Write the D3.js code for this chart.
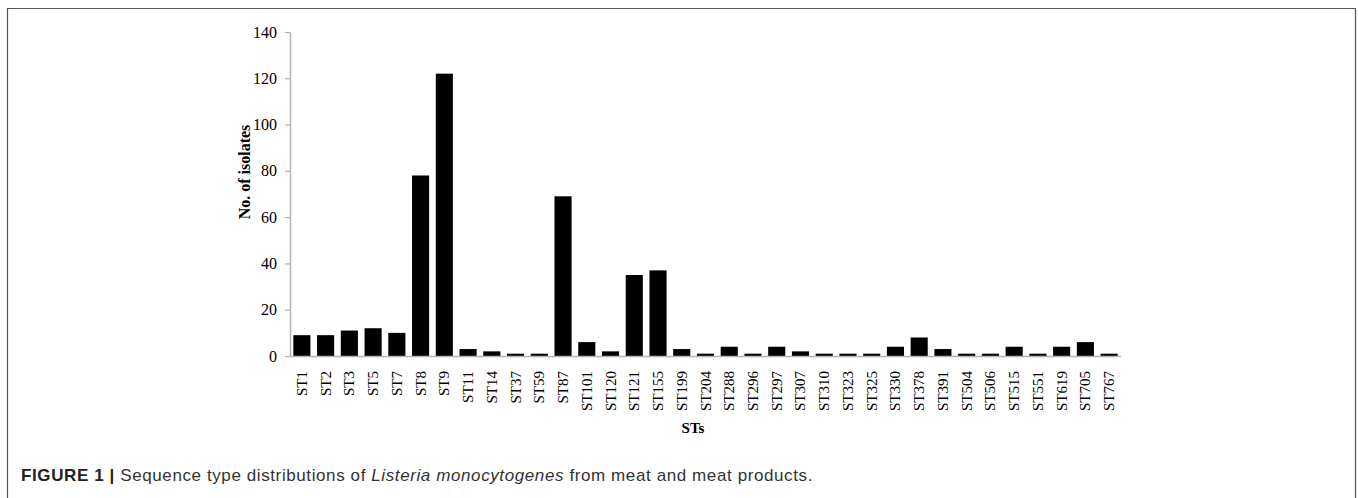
<!DOCTYPE html>
<html>
<head>
<meta charset="utf-8">
<script src="https://cdn.jsdelivr.net/npm/d3@7"></script>
<style>
  body { margin: 0; background: #fff; }
  svg { display: block; }
</style>
</head>
<body>
<div id="chart"></div>
<script>
// data
var categories = ["ST1","ST2","ST3","ST5","ST7","ST8","ST9","ST11","ST14","ST37","ST59","ST87",
  "ST101","ST120","ST121","ST155","ST199","ST204","ST288","ST296","ST297","ST307","ST310",
  "ST323","ST325","ST330","ST378","ST391","ST504","ST506","ST515","ST551","ST619","ST705","ST767"];
var isolates = [9,9,11,12,10,78,122,3,2,1,1,69,6,2,35,37,3,1,4,1,4,2,1,1,1,4,8,3,1,1,4,1,4,6,1];
var yTicks = [0,20,40,60,80,100,120,140];

var width = 1358, height = 498;
var margin = {left: 290, right: 237, top: 32, bottom: 142};
var plotW = width - margin.left - margin.right,
    plotH = height - margin.top - margin.bottom;

var serif = "'Liberation Serif', 'Times New Roman', serif";

var svg = d3.select("#chart").append("svg")
    .attr("width", width)
    .attr("height", height);

// outer frame (open at the bottom)
svg.append("path")
    .attr("d", "M7.5,498V8.5H1355.5V498")
    .attr("fill", "none")
    .attr("stroke", "#555")
    .attr("stroke-width", 1.2);

var g = svg.append("g")
    .attr("transform", "translate(" + margin.left + "," + margin.top + ")");

var x = d3.scaleBand()
    .domain(categories)
    .range([0, plotW])
    .paddingInner(0.28)
    .paddingOuter(0.14);

var y = d3.scaleLinear()
    .domain([0, 140])
    .range([plotH, 0]);

// bars
g.selectAll(".bar")
    .data(categories)
    .enter()
    .append("rect")
    .attr("class", "bar")
    .attr("x", function (d) { return x(d); })
    .attr("width", x.bandwidth())
    .attr("y", function (d, i) { return y(isolates[i]); })
    .attr("height", function (d, i) { return plotH - y(isolates[i]); })
    .attr("fill", "#000");

// y axis
var yAxis = g.append("g")
    .call(d3.axisLeft(y).tickValues(yTicks).tickSize(5).tickPadding(8).tickSizeOuter(0));
yAxis.select(".domain").attr("stroke", "#b3b3b3").attr("stroke-width", 1.5);
yAxis.selectAll(".tick line").attr("stroke", "#b3b3b3").attr("stroke-width", 1.2);
yAxis.selectAll(".tick text")
    .attr("font-family", serif)
    .attr("font-size", 16)
    .attr("fill", "#000");

// x axis line
g.append("line")
    .attr("x1", 0).attr("x2", plotW)
    .attr("y1", plotH + 0.5).attr("y2", plotH + 0.5)
    .attr("stroke", "#b3b3b3")
    .attr("stroke-width", 1.5);

// category labels, rotated
g.selectAll(".xlab")
    .data(categories)
    .enter()
    .append("text")
    .attr("class", "xlab")
    .attr("transform", function (d) {
        return "translate(" + (x(d) + x.bandwidth() / 2 + 5) + "," + (plotH + 15) + ") rotate(-90)";
    })
    .attr("text-anchor", "end")
    .attr("font-family", serif)
    .attr("font-size", 15)
    .text(function (d) { return d; });

// axis titles
svg.append("text")
    .attr("transform", "translate(250,172) rotate(-90)")
    .attr("text-anchor", "middle")
    .attr("font-family", serif)
    .attr("font-weight", "bold")
    .attr("font-size", 16)
    .text("No. of isolates");

svg.append("text")
    .attr("x", 693)
    .attr("y", 433)
    .attr("text-anchor", "middle")
    .attr("font-family", serif)
    .attr("font-weight", "bold")
    .attr("font-size", 15)
    .text("STs");

// caption
var cap = svg.append("text")
    .attr("x", 21)
    .attr("y", 481)
    .attr("font-family", "'Liberation Sans', Arial, sans-serif")
    .attr("font-size", 17)
    .attr("letter-spacing", 0.6)
    .attr("fill", "#333");
cap.append("tspan").attr("font-weight", "bold").attr("fill", "#222").text("FIGURE 1 | ");
cap.append("tspan").text("Sequence type distributions of ");
cap.append("tspan").attr("font-style", "italic").text("Listeria monocytogenes");
cap.append("tspan").text(" from meat and meat products.");
</script>
</body>
</html>
